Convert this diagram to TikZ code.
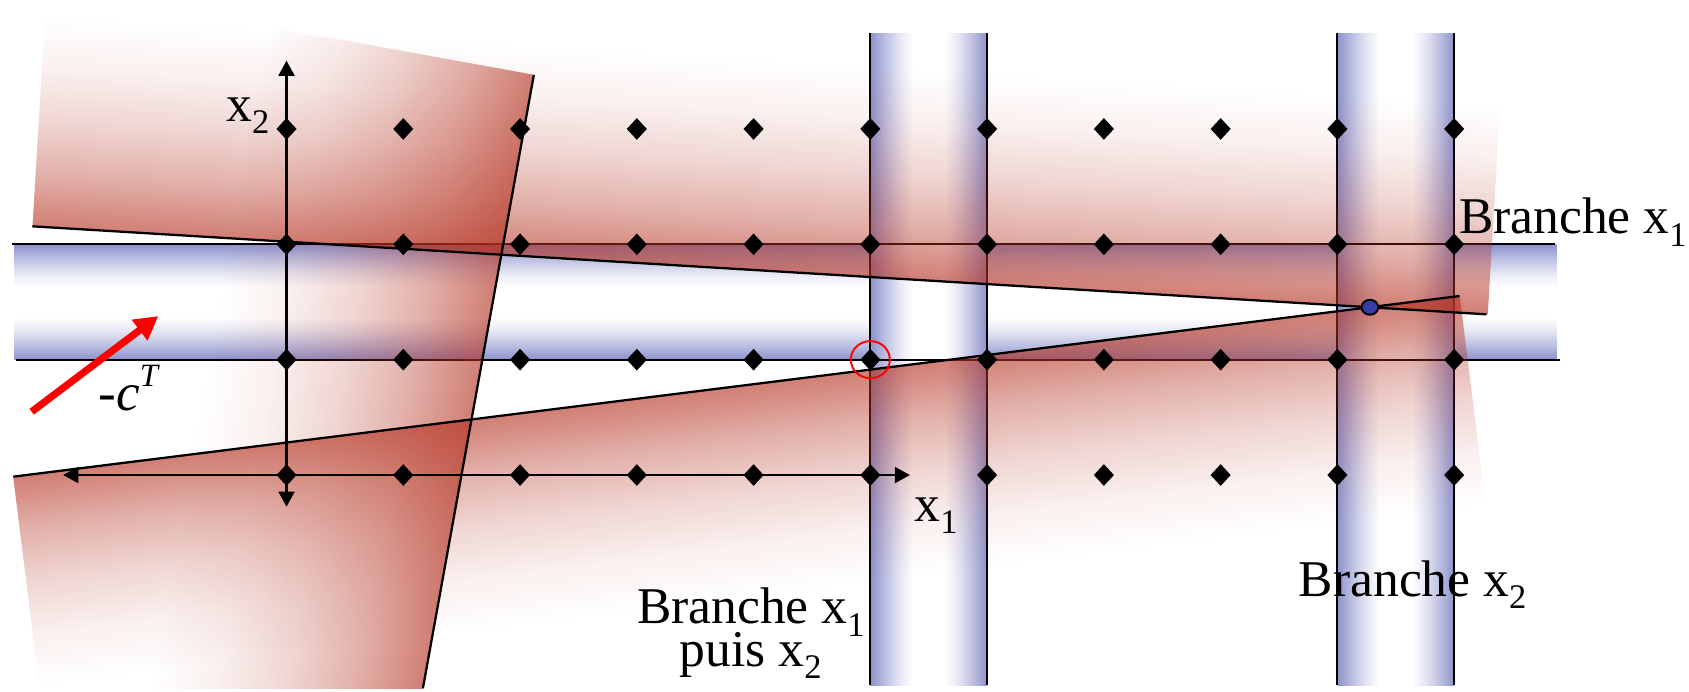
\documentclass[tikz,border=0pt]{standalone}
\usepackage{fontspec}
\setmainfont{Liberation Serif}
\usetikzlibrary{arrows.meta,shapes.geometric,fadings}
\definecolor{bandblue}{RGB}{140,146,204}
\definecolor{cutred}{RGB}{180,48,30}
\definecolor{dotblue}{RGB}{55,60,170}
\pgfdeclareverticalshading{hbandsh}{100bp}{color(0bp)=(bandblue); color(25bp)=(bandblue); color(31bp)=(bandblue!60); color(37bp)=(bandblue!25); color(43bp)=(white); color(57bp)=(white); color(63bp)=(bandblue!25); color(69bp)=(bandblue!60); color(75bp)=(bandblue); color(100bp)=(bandblue)}
\pgfdeclarehorizontalshading{vbandsh}{100bp}{color(0bp)=(bandblue); color(25bp)=(bandblue); color(31bp)=(bandblue!60); color(37bp)=(bandblue!25); color(43bp)=(white); color(57bp)=(white); color(63bp)=(bandblue!25); color(69bp)=(bandblue!60); color(75bp)=(bandblue); color(100bp)=(bandblue)}
\pgfdeclareverticalshading{cutfadesh}{100bp}{color(0bp)=(black!38); color(37.5bp)=(black!38); color(43.75bp)=(black!62); color(50bp)=(black!80); color(56.25bp)=(black!93); color(62.5bp)=(black); color(100bp)=(black)}
\begin{tikzfadingfrompicture}[name=cutfade]
  \shade[shading=cutfadesh] (-50bp,-50bp) rectangle (50bp,50bp);
\end{tikzfadingfrompicture}
\newcommand\sbs[1]{\raisebox{-3.2pt}{\fontsize{9.1}{10}\selectfont #1}}
\newcommand\sps[1]{\raisebox{6.3pt}{\fontsize{8.6}{9}\selectfont\itshape #1}}
\tikzset{
  diam/.style={diamond, fill=black, inner sep=0pt, minimum width=5.46pt, minimum height=5.89pt},
  bandline/.style={line width=0.5pt, black},
  cutline/.style={line width=0.6pt, black},
  axisline/.style={line width=0.6pt, {Triangle[length=4pt,width=4.2pt]}-{Triangle[length=4pt,width=4.2pt]}},
  costarrow/.style={line width=1.9pt, red, -{Triangle[length=6.2pt,width=6.5pt]}},
  lbl/.style={inner sep=0pt, font=\fontsize{13.6}{16}\selectfont},
  cutshade/.style={cutred, path fading=cutfade},
}
\begin{document}
\begin{tikzpicture}[x=0.01cm, y=-0.01cm]
\useasboundingbox[fill=white] (0,0) rectangle (1568,642);

% cut lines end points
\coordinate (A1) at (30,210.1);
\coordinate (B1) at (1380,291.8);
\coordinate (A2) at (495.6,69.6);
\coordinate (B2) at (392.6,639);
\coordinate (A3) at (12.4,442.5);
\coordinate (B3) at (1355,274.8);

% blue branching bands
\shade[shading=hbandsh] (13,226.8) rectangle (1445,333.9);
\shade[shading=vbandsh] (808,30.7) rectangle (916.4,636);
\shade[shading=vbandsh] (1241.6,30.7) rectangle (1350,636);
\draw[bandline] (11,226.8) -- (1443.6,226.8);
\draw[bandline] (15,333.9) -- (1448,333.9);
\foreach \xx in {808,916.4,1241.6,1350}
  \draw[bandline] (\xx,30.7) -- (\xx,636);

% red shaded half-planes of the cuts
\begin{scope}
\clip (0,0) rectangle (1568,639);
\begin{scope}[transform canvas={shift={(A1)}, rotate=-3.4633}]
  \fill[cutshade] (0cm,0cm) rectangle (13.525cm,1.95cm);
\end{scope}
\begin{scope}[transform canvas={shift={(B2)}, rotate=79.746}]
  \fill[cutshade] (-0.8cm,0cm) rectangle (5.786cm,2.5cm);
\end{scope}
\begin{scope}[transform canvas={shift={(B3)}, rotate=187.12}]
  \fill[cutshade] (0cm,0cm) rectangle (13.53cm,1.95cm);
\end{scope}
\end{scope}

% cut lines
\draw[cutline] (A1) -- (B1);
\draw[cutline] (A2) -- (B2);
\draw[cutline] (A3) -- (B3);

% axes
\coordinate (x2lo) at (266,470.4);
\coordinate (x2hi) at (266,56.3);
\coordinate (x1lo) at (58.6,441);
\coordinate (x1hi) at (844.8,441);
\draw[axisline] (x2lo) -- (x2hi);
\draw[axisline] (x1lo) -- (x1hi);

% integer points
\foreach \i in {0,...,10}
  \foreach \j in {0,...,3}
    \node[diam] (d-\i-\j) at ({266+108.4*\i},{441-107.1*\j}) {};

% optimum of the relaxation and selected point
\node[ellipse, draw=black, line width=0.5pt, fill=dotblue, inner sep=0pt,
      minimum width=4.4pt, minimum height=3.95pt] (opt) at (intersection of A1--B1 and A3--B3) {};
\node[ellipse, draw=red, line width=0.5pt, inner sep=0pt,
      minimum width=10.3pt, minimum height=9.8pt] (sel) at (d-5-1) {};

% cost direction
\coordinate (ctail) at (29.4,382.2);
\coordinate (ctip) at (147,293.4);
\draw[costarrow] (ctail) -- (ctip);

% labels
\node[lbl, anchor=base west] (lx2) at (209.5,113) {x\sbs{2}};
\node[lbl, anchor=base west] (lx1) at (848.5,484.3) {x\sbs{1}};
\node[anchor=base west, inner sep=0pt, font=\fontsize{14}{16}\selectfont] (lc) at (91,381) {-\textit{c}\sps{T}};
\node[lbl, anchor=base, align=center, font={\fontsize{13.6}{11.3}\selectfont\lineskiplimit=-100pt}] (lb1) at (697,619) {Branche x\sbs{1}\\puis x\sbs{2}};
\node[lbl, anchor=base west] (lb2) at (1205.2,553.9) {Branche x\sbs{2}};
\node[lbl, anchor=base west] (lb3) at (1353.8,217.2) {Branche x\sbs{1}};
\end{tikzpicture}
\end{document}
